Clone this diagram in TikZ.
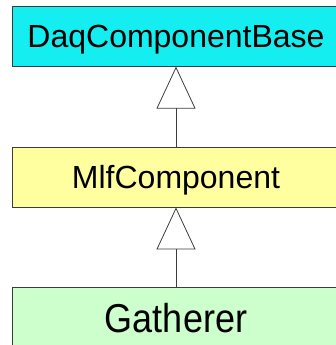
\documentclass[tikz,border=0pt]{standalone}
\usepackage{fontspec}
\setmainfont{Liberation Sans}
\usetikzlibrary{matrix,arrows.meta}
\definecolor{basecyan}{RGB}{20,238,240}
\definecolor{mlfyellow}{RGB}{255,255,160}
\definecolor{gathgreen}{RGB}{204,255,204}
\definecolor{boxline}{RGB}{60,60,60}
\begin{document}
\begin{tikzpicture}[x=1pt,y=-1pt,
cls/.style={draw=boxline,line width=0.8pt,minimum width=328pt,minimum height=60pt,
  text depth=0pt,text height=23pt,font=\fontsize{32}{36}\selectfont},
inherit/.style={-{Triangle[open,length=42pt,width=39pt]},draw=boxline,line width=0.8pt}]
\useasboundingbox (0,0) rectangle (336,345);
\clip (0,0) rectangle (336,345);
\matrix(m) at (176,177) [matrix of nodes, row sep=80pt, inner sep=0pt, nodes={cls}]
{|[fill=basecyan]| DaqComponentBase \\
|[fill=mlfyellow]| MlfComponent \\
|[fill=gathgreen,text height=29pt,font=\fontsize{36}{40}\selectfont]| \scalebox{1}[1.12]{Gatherer} \\};
\path[inherit] (m-2-1) edge (m-1-1);
\path[inherit] (m-3-1) edge (m-2-1);
\end{tikzpicture}
\end{document}
